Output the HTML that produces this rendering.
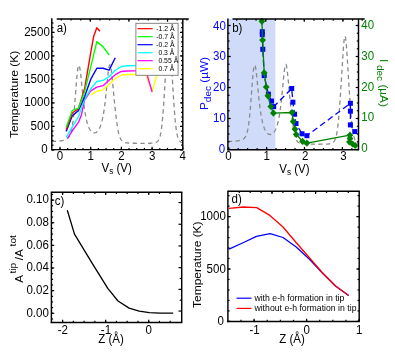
<!DOCTYPE html>
<html><head><meta charset="utf-8"><title>Figure</title>
<style>html,body{margin:0;padding:0;background:#fff;}body{width:395px;height:357px;overflow:hidden;font-family:"Liberation Sans",sans-serif;}svg{display:block;will-change:transform;filter:blur(0.35px);}</style>
</head><body>
<svg width="395" height="357" viewBox="0 0 395 357" style="font-family:'Liberation Sans',sans-serif">
<polyline points="51.80,141.40 52.20,141.39 52.60,141.38 53.00,141.37 53.40,141.35 53.80,141.34 54.20,141.33 54.60,141.31 55.00,141.30 55.40,141.28 55.80,141.26 56.20,141.25 56.60,141.23 57.00,141.20 57.40,141.18 57.80,141.15 58.20,141.13 58.60,141.09 59.00,141.06 59.40,141.02 59.80,140.98 60.20,140.94 60.60,140.89 61.00,140.84 61.40,140.78 61.80,140.71 62.20,140.64 62.60,140.56 63.00,140.47 63.40,140.37 63.80,140.26 64.20,140.14 64.60,140.00 65.00,139.84 65.40,139.66 65.80,139.45 66.20,139.22 66.60,138.96 67.00,138.65 67.40,138.31 67.80,137.98 68.20,137.62 68.60,137.19 69.00,136.67 69.40,136.05 69.80,135.31 70.20,134.42 70.60,133.37 71.00,132.11 71.40,130.63 71.80,128.87 72.20,126.80 72.60,124.37 73.00,121.55 73.40,118.29 73.80,114.58 74.20,110.41 74.60,105.80 75.00,100.76 75.40,95.47 75.80,90.11 76.20,84.84 76.60,79.87 77.00,75.40 77.40,71.61 77.80,68.61 78.20,66.52 78.60,65.38 79.00,65.23 79.40,66.05 79.80,67.79 80.20,70.34 80.60,73.52 81.00,77.16 81.40,81.08 81.80,85.14 82.20,89.19 82.60,93.15 83.00,96.93 83.40,100.50 83.80,103.83 84.20,106.91 84.60,109.73 85.00,112.31 85.40,114.66 85.80,116.79 86.20,118.72 86.60,120.46 87.00,122.03 87.40,123.45 87.80,124.72 88.20,125.87 88.60,126.89 89.00,127.81 89.40,128.63 89.80,129.36 90.20,130.00 90.60,130.57 91.00,131.07 91.40,131.50 91.80,131.86 92.20,132.17 92.60,132.42 93.00,132.62 93.40,132.77 93.80,132.86 94.20,132.91 94.60,132.90 95.00,132.85 95.40,132.74 95.80,132.58 96.20,132.38 96.60,132.11 97.00,131.79 97.40,131.41 97.80,130.97 98.20,130.46 98.60,129.88 99.00,129.21 99.40,128.47 99.80,127.63 100.20,126.69 100.60,125.64 101.00,124.48 101.40,123.18 101.80,121.73 102.20,120.13 102.60,118.35 103.00,116.39 103.40,114.21 103.80,111.82 104.20,109.19 104.60,106.32 105.00,103.19 105.40,99.80 105.80,96.18 106.20,92.35 106.60,88.35 107.00,84.26 107.40,80.19 107.80,76.26 108.20,72.65 108.60,69.52 109.00,67.05 109.40,65.41 109.80,64.70 110.20,64.97 110.60,66.22 111.00,68.35 111.40,71.22 111.80,74.67 112.20,78.51 112.60,82.61 113.00,86.82 113.40,91.07 113.80,95.28 114.20,99.40 114.60,103.42 115.00,107.29 115.40,111.01 115.80,114.56 116.20,117.91 116.60,121.04 117.00,123.93 117.40,126.56 117.80,128.93 118.20,131.03 118.60,132.87 119.00,134.46 119.40,135.83 119.80,137.00 120.20,137.98 120.60,138.81 121.00,139.51 121.40,140.09 121.80,140.58 122.20,140.99 122.60,141.33 123.00,141.62 123.40,141.86 123.80,142.06 124.20,142.23 124.60,142.37 125.00,142.49 125.40,142.60 125.80,142.69 126.20,142.76 126.60,142.83 127.00,142.88 127.40,142.93 127.80,142.98 128.20,143.01 128.60,143.05 129.00,143.07 129.40,143.10 129.80,143.12 130.20,143.14 130.60,143.16 131.00,143.17 131.40,143.19 131.80,143.20 132.20,143.21 132.60,143.22 133.00,143.23 133.40,143.24 133.80,143.25 134.20,143.26 134.60,143.26 135.00,143.27 135.40,143.27 135.80,143.28 136.20,143.28 136.60,143.29 137.00,143.29 137.40,143.29 137.80,143.30 138.20,143.30 138.60,143.30 139.00,143.31 139.40,143.31 139.80,143.31 140.20,143.31 140.60,143.31 141.00,143.32 141.40,143.32 141.80,143.32 142.20,143.32 142.60,143.32 143.00,143.32 143.40,143.32 143.80,143.32 144.20,143.32 144.60,143.32 145.00,143.32 145.40,143.32 145.80,143.32 146.20,143.31 146.60,143.31 147.00,143.31 147.40,143.30 147.80,143.30 148.20,143.29 148.60,143.29 149.00,143.28 149.40,143.27 149.80,143.26 150.20,143.25 150.60,143.23 151.00,143.22 151.40,143.20 151.80,143.17 152.20,143.15 152.60,143.11 153.00,143.07 153.40,143.03 153.80,142.97 154.20,142.91 154.60,142.83 155.00,142.73 155.40,142.61 155.80,142.47 156.20,142.30 156.60,142.09 157.00,141.83 157.40,141.51 157.80,141.11 158.20,140.62 158.60,140.02 159.00,139.26 159.40,138.32 159.80,137.15 160.20,135.71 160.60,133.93 161.00,131.75 161.40,129.13 161.80,125.99 162.20,122.32 162.60,118.08 163.00,113.29 163.40,108.00 163.80,102.25 164.20,96.11 164.60,89.65 165.00,82.92 165.40,75.99 165.80,68.92 166.20,61.81 166.60,54.81 167.00,48.15 167.40,42.13 167.80,37.13 168.20,33.52 168.60,31.63 169.00,31.63 169.40,33.52 169.80,37.13 170.20,42.14 170.60,48.15 171.00,54.81 171.40,61.81 171.80,68.92 172.20,75.99 172.60,82.92 173.00,89.65 173.40,96.11 173.80,102.25 174.20,108.01 174.60,113.30 175.00,118.09 175.40,122.32 175.80,126.00 176.20,129.14 176.60,131.76 177.00,133.94 177.40,135.72 177.80,137.16 178.20,138.33 178.60,139.27 179.00,140.03 179.40,140.64 179.80,141.13 180.20,141.53 180.60,141.85 181.00,142.11 181.40,142.32 181.80,142.49 182.20,142.63 182.60,142.75" fill="none" stroke="#8a8a8a" stroke-width="1.3" stroke-linejoin="round" stroke-dasharray="4.3 3.4"/>
<polyline points="90.70,95.15 96.84,91.24 102.98,89.83 109.12,84.19 115.26,78.51 121.40,75.03 127.54,74.51 133.68,74.51 139.82,74.51 145.96,74.94 152.10,91.76 158.24,70.00" fill="none" stroke="#ffff00" stroke-width="1.4" stroke-linejoin="round" />
<polyline points="67.67,138.15 72.28,130.77 78.42,122.41 81.49,114.65 84.56,100.08 90.70,90.96 96.84,87.06 102.98,85.65 109.12,80.20 115.26,74.70 121.40,71.46 127.54,70.94 133.68,70.85 139.82,70.85 145.96,70.85 152.10,91.76" fill="none" stroke="#ff00ff" stroke-width="1.4" stroke-linejoin="round" />
<polyline points="66.14,137.44 72.28,126.92 78.42,116.86 84.56,99.14 90.70,88.99 96.84,81.52 102.98,80.39 109.12,76.72 115.26,70.23 121.40,66.48 127.54,65.77 133.68,65.63 139.82,65.63 145.96,65.77" fill="none" stroke="#00ffff" stroke-width="1.4" stroke-linejoin="round" />
<polyline points="66.14,131.38 72.28,115.73 78.42,110.66 84.56,96.79 90.70,79.40 96.84,68.26 102.98,68.26 109.12,70.14 115.26,57.78" fill="none" stroke="#0000ff" stroke-width="1.4" stroke-linejoin="round" />
<polyline points="66.14,129.69 72.28,112.96 78.42,108.59 84.56,88.80 90.70,52.80 93.77,35.88 96.84,27.70 99.91,31.32" fill="none" stroke="#ff0000" stroke-width="1.4" stroke-linejoin="round" />
<polyline points="66.14,127.39 72.28,110.37 78.42,108.16 84.56,92.09 90.70,66.95 96.84,41.66 102.98,46.64 109.12,55.01" fill="none" stroke="#00ff00" stroke-width="1.4" stroke-linejoin="round" />
<rect x="135.9" y="23.3" width="42.2" height="52.0" fill="#fff" stroke="#7a7a7a" stroke-width="0.9"/>
<line x1="137.50" y1="28.70" x2="152.70" y2="28.70" stroke="#ff0000" stroke-width="1.2" />
<text transform="translate(156.20,31.40) scale(0.93,1)" font-size="7.4" fill="#000" text-anchor="start" >-1.2 Å</text>
<line x1="137.50" y1="36.70" x2="152.70" y2="36.70" stroke="#00ff00" stroke-width="1.2" />
<text transform="translate(156.20,39.40) scale(0.93,1)" font-size="7.4" fill="#000" text-anchor="start" >-0.7 Å</text>
<line x1="137.50" y1="44.70" x2="152.70" y2="44.70" stroke="#0000ff" stroke-width="1.2" />
<text transform="translate(156.20,47.40) scale(0.93,1)" font-size="7.4" fill="#000" text-anchor="start" >-0.2 Å</text>
<line x1="137.50" y1="52.70" x2="152.70" y2="52.70" stroke="#00ffff" stroke-width="1.2" />
<text transform="translate(158.40,55.40) scale(0.93,1)" font-size="7.4" fill="#000" text-anchor="start" >0.3 Å</text>
<line x1="137.50" y1="60.70" x2="152.70" y2="60.70" stroke="#ff00ff" stroke-width="1.2" />
<text transform="translate(158.40,63.40) scale(0.93,1)" font-size="7.4" fill="#000" text-anchor="start" >0.55 Å</text>
<line x1="137.50" y1="68.70" x2="152.70" y2="68.70" stroke="#ffff00" stroke-width="1.2" />
<text transform="translate(158.40,71.40) scale(0.93,1)" font-size="7.4" fill="#000" text-anchor="start" >0.7 Å</text>
<line x1="51.80" y1="18.30" x2="51.80" y2="150.25" stroke="#000" stroke-width="1.45" />
<line x1="51.15" y1="149.60" x2="183.45" y2="149.60" stroke="#000" stroke-width="1.45" />
<line x1="182.80" y1="18.90" x2="182.80" y2="149.60" stroke="#000" stroke-width="1.45" />
<line x1="56.70" y1="18.90" x2="188.80" y2="18.90" stroke="#000" stroke-width="1.45" />
<line x1="51.80" y1="149.90" x2="53.50" y2="149.90" stroke="#000" stroke-width="1.2" />
<line x1="51.80" y1="145.20" x2="53.50" y2="145.20" stroke="#000" stroke-width="1.2" />
<line x1="51.80" y1="140.50" x2="53.50" y2="140.50" stroke="#000" stroke-width="1.2" />
<line x1="51.80" y1="135.80" x2="53.50" y2="135.80" stroke="#000" stroke-width="1.2" />
<line x1="51.80" y1="131.10" x2="53.50" y2="131.10" stroke="#000" stroke-width="1.2" />
<line x1="51.80" y1="126.40" x2="53.50" y2="126.40" stroke="#000" stroke-width="1.2" />
<line x1="51.80" y1="121.70" x2="53.50" y2="121.70" stroke="#000" stroke-width="1.2" />
<line x1="51.80" y1="117.00" x2="53.50" y2="117.00" stroke="#000" stroke-width="1.2" />
<line x1="51.80" y1="112.30" x2="53.50" y2="112.30" stroke="#000" stroke-width="1.2" />
<line x1="51.80" y1="107.60" x2="53.50" y2="107.60" stroke="#000" stroke-width="1.2" />
<line x1="51.80" y1="102.90" x2="53.50" y2="102.90" stroke="#000" stroke-width="1.2" />
<line x1="51.80" y1="98.20" x2="53.50" y2="98.20" stroke="#000" stroke-width="1.2" />
<line x1="51.80" y1="93.50" x2="53.50" y2="93.50" stroke="#000" stroke-width="1.2" />
<line x1="51.80" y1="88.80" x2="53.50" y2="88.80" stroke="#000" stroke-width="1.2" />
<line x1="51.80" y1="84.10" x2="53.50" y2="84.10" stroke="#000" stroke-width="1.2" />
<line x1="51.80" y1="79.40" x2="53.50" y2="79.40" stroke="#000" stroke-width="1.2" />
<line x1="51.80" y1="74.70" x2="53.50" y2="74.70" stroke="#000" stroke-width="1.2" />
<line x1="51.80" y1="70.00" x2="53.50" y2="70.00" stroke="#000" stroke-width="1.2" />
<line x1="51.80" y1="65.30" x2="53.50" y2="65.30" stroke="#000" stroke-width="1.2" />
<line x1="51.80" y1="60.60" x2="53.50" y2="60.60" stroke="#000" stroke-width="1.2" />
<line x1="51.80" y1="55.90" x2="53.50" y2="55.90" stroke="#000" stroke-width="1.2" />
<line x1="51.80" y1="51.20" x2="53.50" y2="51.20" stroke="#000" stroke-width="1.2" />
<line x1="51.80" y1="46.50" x2="53.50" y2="46.50" stroke="#000" stroke-width="1.2" />
<line x1="51.80" y1="41.80" x2="53.50" y2="41.80" stroke="#000" stroke-width="1.2" />
<line x1="51.80" y1="37.10" x2="53.50" y2="37.10" stroke="#000" stroke-width="1.2" />
<line x1="51.80" y1="32.40" x2="53.50" y2="32.40" stroke="#000" stroke-width="1.2" />
<line x1="51.80" y1="27.70" x2="53.50" y2="27.70" stroke="#000" stroke-width="1.2" />
<line x1="51.80" y1="23.00" x2="53.50" y2="23.00" stroke="#000" stroke-width="1.2" />
<line x1="51.80" y1="149.90" x2="54.60" y2="149.90" stroke="#000" stroke-width="1.2" />
<line x1="51.80" y1="126.40" x2="54.60" y2="126.40" stroke="#000" stroke-width="1.2" />
<line x1="51.80" y1="102.90" x2="54.60" y2="102.90" stroke="#000" stroke-width="1.2" />
<line x1="51.80" y1="79.40" x2="54.60" y2="79.40" stroke="#000" stroke-width="1.2" />
<line x1="51.80" y1="55.90" x2="54.60" y2="55.90" stroke="#000" stroke-width="1.2" />
<line x1="51.80" y1="32.40" x2="54.60" y2="32.40" stroke="#000" stroke-width="1.2" />
<line x1="182.80" y1="149.90" x2="181.10" y2="149.90" stroke="#000" stroke-width="1.2" />
<line x1="182.80" y1="145.20" x2="181.10" y2="145.20" stroke="#000" stroke-width="1.2" />
<line x1="182.80" y1="140.50" x2="181.10" y2="140.50" stroke="#000" stroke-width="1.2" />
<line x1="182.80" y1="135.80" x2="181.10" y2="135.80" stroke="#000" stroke-width="1.2" />
<line x1="182.80" y1="131.10" x2="181.10" y2="131.10" stroke="#000" stroke-width="1.2" />
<line x1="182.80" y1="126.40" x2="181.10" y2="126.40" stroke="#000" stroke-width="1.2" />
<line x1="182.80" y1="121.70" x2="181.10" y2="121.70" stroke="#000" stroke-width="1.2" />
<line x1="182.80" y1="117.00" x2="181.10" y2="117.00" stroke="#000" stroke-width="1.2" />
<line x1="182.80" y1="112.30" x2="181.10" y2="112.30" stroke="#000" stroke-width="1.2" />
<line x1="182.80" y1="107.60" x2="181.10" y2="107.60" stroke="#000" stroke-width="1.2" />
<line x1="182.80" y1="102.90" x2="181.10" y2="102.90" stroke="#000" stroke-width="1.2" />
<line x1="182.80" y1="98.20" x2="181.10" y2="98.20" stroke="#000" stroke-width="1.2" />
<line x1="182.80" y1="93.50" x2="181.10" y2="93.50" stroke="#000" stroke-width="1.2" />
<line x1="182.80" y1="88.80" x2="181.10" y2="88.80" stroke="#000" stroke-width="1.2" />
<line x1="182.80" y1="84.10" x2="181.10" y2="84.10" stroke="#000" stroke-width="1.2" />
<line x1="182.80" y1="79.40" x2="181.10" y2="79.40" stroke="#000" stroke-width="1.2" />
<line x1="182.80" y1="74.70" x2="181.10" y2="74.70" stroke="#000" stroke-width="1.2" />
<line x1="182.80" y1="70.00" x2="181.10" y2="70.00" stroke="#000" stroke-width="1.2" />
<line x1="182.80" y1="65.30" x2="181.10" y2="65.30" stroke="#000" stroke-width="1.2" />
<line x1="182.80" y1="60.60" x2="181.10" y2="60.60" stroke="#000" stroke-width="1.2" />
<line x1="182.80" y1="55.90" x2="181.10" y2="55.90" stroke="#000" stroke-width="1.2" />
<line x1="182.80" y1="51.20" x2="181.10" y2="51.20" stroke="#000" stroke-width="1.2" />
<line x1="182.80" y1="46.50" x2="181.10" y2="46.50" stroke="#000" stroke-width="1.2" />
<line x1="182.80" y1="41.80" x2="181.10" y2="41.80" stroke="#000" stroke-width="1.2" />
<line x1="182.80" y1="37.10" x2="181.10" y2="37.10" stroke="#000" stroke-width="1.2" />
<line x1="182.80" y1="32.40" x2="181.10" y2="32.40" stroke="#000" stroke-width="1.2" />
<line x1="182.80" y1="27.70" x2="181.10" y2="27.70" stroke="#000" stroke-width="1.2" />
<line x1="182.80" y1="23.00" x2="181.10" y2="23.00" stroke="#000" stroke-width="1.2" />
<line x1="182.80" y1="149.90" x2="180.00" y2="149.90" stroke="#000" stroke-width="1.2" />
<line x1="182.80" y1="126.40" x2="180.00" y2="126.40" stroke="#000" stroke-width="1.2" />
<line x1="182.80" y1="102.90" x2="180.00" y2="102.90" stroke="#000" stroke-width="1.2" />
<line x1="182.80" y1="79.40" x2="180.00" y2="79.40" stroke="#000" stroke-width="1.2" />
<line x1="182.80" y1="55.90" x2="180.00" y2="55.90" stroke="#000" stroke-width="1.2" />
<line x1="182.80" y1="32.40" x2="180.00" y2="32.40" stroke="#000" stroke-width="1.2" />
<line x1="60.00" y1="149.60" x2="60.00" y2="147.90" stroke="#000" stroke-width="1.2" />
<line x1="67.67" y1="149.60" x2="67.67" y2="147.90" stroke="#000" stroke-width="1.2" />
<line x1="75.35" y1="149.60" x2="75.35" y2="147.90" stroke="#000" stroke-width="1.2" />
<line x1="83.03" y1="149.60" x2="83.03" y2="147.90" stroke="#000" stroke-width="1.2" />
<line x1="90.70" y1="149.60" x2="90.70" y2="147.90" stroke="#000" stroke-width="1.2" />
<line x1="98.38" y1="149.60" x2="98.38" y2="147.90" stroke="#000" stroke-width="1.2" />
<line x1="106.05" y1="149.60" x2="106.05" y2="147.90" stroke="#000" stroke-width="1.2" />
<line x1="113.72" y1="149.60" x2="113.72" y2="147.90" stroke="#000" stroke-width="1.2" />
<line x1="121.40" y1="149.60" x2="121.40" y2="147.90" stroke="#000" stroke-width="1.2" />
<line x1="129.07" y1="149.60" x2="129.07" y2="147.90" stroke="#000" stroke-width="1.2" />
<line x1="136.75" y1="149.60" x2="136.75" y2="147.90" stroke="#000" stroke-width="1.2" />
<line x1="144.43" y1="149.60" x2="144.43" y2="147.90" stroke="#000" stroke-width="1.2" />
<line x1="152.10" y1="149.60" x2="152.10" y2="147.90" stroke="#000" stroke-width="1.2" />
<line x1="159.77" y1="149.60" x2="159.77" y2="147.90" stroke="#000" stroke-width="1.2" />
<line x1="167.45" y1="149.60" x2="167.45" y2="147.90" stroke="#000" stroke-width="1.2" />
<line x1="175.12" y1="149.60" x2="175.12" y2="147.90" stroke="#000" stroke-width="1.2" />
<line x1="60.00" y1="149.60" x2="60.00" y2="146.80" stroke="#000" stroke-width="1.2" />
<line x1="90.70" y1="149.60" x2="90.70" y2="146.80" stroke="#000" stroke-width="1.2" />
<line x1="121.40" y1="149.60" x2="121.40" y2="146.80" stroke="#000" stroke-width="1.2" />
<line x1="152.10" y1="149.60" x2="152.10" y2="146.80" stroke="#000" stroke-width="1.2" />
<line x1="182.80" y1="149.60" x2="182.80" y2="146.80" stroke="#000" stroke-width="1.2" />
<line x1="61.40" y1="18.90" x2="61.40" y2="20.60" stroke="#000" stroke-width="1.2" />
<line x1="71.05" y1="18.90" x2="71.05" y2="20.60" stroke="#000" stroke-width="1.2" />
<line x1="80.70" y1="18.90" x2="80.70" y2="20.60" stroke="#000" stroke-width="1.2" />
<line x1="90.35" y1="18.90" x2="90.35" y2="20.60" stroke="#000" stroke-width="1.2" />
<line x1="100.00" y1="18.90" x2="100.00" y2="20.60" stroke="#000" stroke-width="1.2" />
<line x1="109.65" y1="18.90" x2="109.65" y2="20.60" stroke="#000" stroke-width="1.2" />
<line x1="119.30" y1="18.90" x2="119.30" y2="20.60" stroke="#000" stroke-width="1.2" />
<line x1="128.95" y1="18.90" x2="128.95" y2="20.60" stroke="#000" stroke-width="1.2" />
<line x1="138.60" y1="18.90" x2="138.60" y2="20.60" stroke="#000" stroke-width="1.2" />
<line x1="148.25" y1="18.90" x2="148.25" y2="20.60" stroke="#000" stroke-width="1.2" />
<line x1="157.90" y1="18.90" x2="157.90" y2="20.60" stroke="#000" stroke-width="1.2" />
<line x1="167.55" y1="18.90" x2="167.55" y2="20.60" stroke="#000" stroke-width="1.2" />
<line x1="177.20" y1="18.90" x2="177.20" y2="20.60" stroke="#000" stroke-width="1.2" />
<line x1="186.85" y1="18.90" x2="186.85" y2="20.60" stroke="#000" stroke-width="1.2" />
<line x1="90.30" y1="18.90" x2="90.30" y2="21.70" stroke="#000" stroke-width="1.2" />
<line x1="128.90" y1="18.90" x2="128.90" y2="21.70" stroke="#000" stroke-width="1.2" />
<line x1="167.50" y1="18.90" x2="167.50" y2="21.70" stroke="#000" stroke-width="1.2" />
<text transform="translate(47.60,153.00) scale(0.96,1)" font-size="12" fill="#000" text-anchor="end" >0</text>
<text transform="translate(49.80,129.66) scale(0.96,1)" font-size="12" fill="#000" text-anchor="end" >500</text>
<text transform="translate(49.80,106.32) scale(0.96,1)" font-size="12" fill="#000" text-anchor="end" >1000</text>
<text transform="translate(49.80,82.98) scale(0.96,1)" font-size="12" fill="#000" text-anchor="end" >1500</text>
<text transform="translate(49.80,59.64) scale(0.96,1)" font-size="12" fill="#000" text-anchor="end" >2000</text>
<text transform="translate(49.80,36.30) scale(0.96,1)" font-size="12" fill="#000" text-anchor="end" >2500</text>
<text transform="translate(60.00,160.10) scale(0.96,1)" font-size="12" fill="#000" text-anchor="middle" >0</text>
<text transform="translate(90.70,160.10) scale(0.96,1)" font-size="12" fill="#000" text-anchor="middle" >1</text>
<text transform="translate(121.40,160.10) scale(0.96,1)" font-size="12" fill="#000" text-anchor="middle" >2</text>
<text transform="translate(152.10,160.10) scale(0.96,1)" font-size="12" fill="#000" text-anchor="middle" >3</text>
<text transform="translate(182.80,160.10) scale(0.96,1)" font-size="12" fill="#000" text-anchor="middle" >4</text>
<text transform="translate(56.70,32.30) scale(0.96,1)" font-size="12" fill="#000" text-anchor="start" >a)</text>
<text transform="translate(116.60,171.60) scale(0.96,1)" font-size="12" fill="#000" text-anchor="middle" >V<tspan font-size="8.5" dy="2">s</tspan><tspan dy="-2"> (V)</tspan></text>
<text transform="translate(17.70,94.30) scale(0.96,1) rotate(-90)" font-size="12.1" fill="#000" text-anchor="middle" >Temperature (K)</text>
<rect x="227.9" y="19.0" width="47.49999999999997" height="130.7" fill="#cfdbf9"/>
<polyline points="227.90,141.51 228.30,141.50 228.70,141.49 229.10,141.48 229.50,141.47 229.90,141.46 230.30,141.44 230.70,141.43 231.10,141.42 231.50,141.40 231.90,141.38 232.30,141.36 232.70,141.34 233.10,141.32 233.50,141.30 233.90,141.27 234.30,141.25 234.70,141.22 235.10,141.18 235.50,141.15 235.90,141.11 236.30,141.06 236.70,141.01 237.10,140.96 237.50,140.90 237.90,140.84 238.30,140.77 238.70,140.69 239.10,140.60 239.50,140.49 239.90,140.38 240.30,140.25 240.70,140.11 241.10,139.95 241.50,139.77 241.90,139.56 242.30,139.42 242.70,139.27 243.10,139.09 243.50,138.86 243.90,138.57 244.30,138.21 244.70,137.78 245.10,137.26 245.50,136.62 245.90,135.85 246.30,134.93 246.70,133.82 247.10,132.50 247.50,130.91 247.90,129.04 248.30,126.81 248.70,124.20 249.10,121.15 249.50,117.64 249.90,113.65 250.30,109.08 250.70,104.07 251.10,98.72 251.50,93.18 251.90,87.65 252.30,82.32 252.70,77.42 253.10,73.14 253.50,69.66 253.90,67.09 254.30,65.50 254.70,64.95 255.10,65.45 255.50,66.94 255.90,69.33 256.30,72.45 256.70,76.11 257.10,80.13 257.50,84.33 257.90,88.56 258.30,92.70 258.70,96.68 259.10,100.44 259.50,103.95 259.90,107.19 260.30,110.17 260.70,112.88 261.10,115.35 261.50,117.58 261.90,119.61 262.30,121.43 262.70,123.07 263.10,124.55 263.50,125.88 263.90,127.07 264.30,128.14 264.70,129.09 265.10,129.95 265.50,130.71 265.90,131.38 266.30,131.97 266.70,132.49 267.10,132.95 267.50,133.33 267.90,133.66 268.30,133.93 268.70,134.15 269.10,134.32 269.50,134.43 269.90,134.50 270.30,134.51 270.70,134.48 271.10,134.40 271.50,134.26 271.90,134.08 272.30,133.85 272.70,133.56 273.10,133.21 273.50,132.80 273.90,132.32 274.30,131.78 274.70,131.16 275.10,130.46 275.50,129.67 275.90,128.78 276.30,127.79 276.70,126.68 277.10,125.44 277.50,124.07 277.90,122.54 278.30,120.84 278.70,118.95 279.10,116.86 279.50,114.55 279.90,112.00 280.30,109.20 280.70,106.13 281.10,102.80 281.50,99.20 281.90,95.35 282.30,91.29 282.70,87.08 283.10,82.82 283.50,78.62 283.90,74.64 284.30,71.07 284.70,68.09 285.10,65.89 285.50,64.63 285.90,64.40 286.30,65.21 286.70,67.00 287.10,69.66 287.50,73.00 287.90,76.83 288.30,81.00 288.70,85.34 289.10,89.74 289.50,94.12 289.90,98.43 290.30,102.62 290.70,106.68 291.10,110.58 291.50,114.29 291.90,117.81 292.30,121.10 292.70,124.13 293.10,126.90 293.50,129.38 293.90,131.59 294.30,133.52 294.70,135.18 295.10,136.61 295.50,137.82 295.90,138.84 296.30,139.70 296.70,140.42 297.10,141.01 297.50,141.51 297.90,141.92 298.30,142.27 298.70,142.56 299.10,142.80 299.50,143.00 299.90,143.17 300.30,143.31 300.70,143.43 301.10,143.54 301.50,143.62 301.90,143.70 302.30,143.76 302.70,143.82 303.10,143.86 303.50,143.90 303.90,143.94 304.30,143.97 304.70,144.00 305.10,144.02 305.50,144.04 305.90,144.06 306.30,144.08 306.70,144.09 307.10,144.11 307.50,144.12 307.90,144.13 308.30,144.14 308.70,144.15 309.10,144.16 309.50,144.16 309.90,144.17 310.30,144.18 310.70,144.18 311.10,144.19 311.50,144.19 311.90,144.20 312.30,144.20 312.70,144.20 313.10,144.21 313.50,144.21 313.90,144.21 314.30,144.21 314.70,144.22 315.10,144.22 315.50,144.22 315.90,144.22 316.30,144.22 316.70,144.22 317.10,144.23 317.50,144.23 317.90,144.23 318.30,144.23 318.70,144.23 319.10,144.23 319.50,144.23 319.90,144.23 320.30,144.22 320.70,144.22 321.10,144.22 321.50,144.22 321.90,144.22 322.30,144.21 322.70,144.21 323.10,144.21 323.50,144.20 323.90,144.19 324.30,144.19 324.70,144.18 325.10,144.17 325.50,144.16 325.90,144.14 326.30,144.13 326.70,144.11 327.10,144.09 327.50,144.07 327.90,144.04 328.30,144.00 328.70,143.96 329.10,143.92 329.50,143.86 329.90,143.79 330.30,143.72 330.70,143.62 331.10,143.51 331.50,143.37 331.90,143.20 332.30,143.00 332.70,142.75 333.10,142.45 333.50,142.08 333.90,141.63 334.30,141.07 334.70,140.39 335.10,139.54 335.50,138.50 335.90,137.23 336.30,135.67 336.70,133.78 337.10,131.51 337.50,128.81 337.90,125.64 338.30,121.98 338.70,117.82 339.10,113.20 339.50,108.14 339.90,102.70 340.30,96.94 340.70,90.91 341.10,84.66 341.50,78.23 341.90,71.70 342.30,65.13 342.70,58.68 343.10,52.52 343.50,46.92 343.90,42.19 344.30,38.64 344.70,36.57 345.10,36.14 345.50,37.41 345.90,40.25 346.30,44.43 346.70,49.64 347.10,55.55 347.50,61.88 347.90,68.41 348.30,74.98 348.70,81.47 349.10,87.82 349.50,93.96 349.90,99.87 350.30,105.47 350.70,110.73 351.10,115.58 351.50,119.97 351.90,123.88 352.30,127.29 352.70,130.23 353.10,132.71 353.50,134.78 353.90,136.50 354.30,137.91 354.70,139.06 355.10,140.00 355.50,140.76 355.90,141.38 356.30,141.88 356.70,142.29 357.10,142.63 357.50,142.90 357.90,143.12 358.30,143.31" fill="none" stroke="#8a8a8a" stroke-width="1.3" stroke-linejoin="round" stroke-dasharray="4.3 3.4"/>
<polyline points="262.30,31.70 262.30,34.60 262.80,49.30 264.20,75.60 268.40,94.20 271.50,101.10 273.70,106.60 291.70,88.50 292.90,102.20 294.60,114.20 296.00,123.50 302.00,133.80 306.90,135.70 350.40,103.30 350.40,111.20 350.40,124.90 354.90,131.60" fill="none" stroke="#0000ff" stroke-width="1.3" stroke-linejoin="round" stroke-dasharray="6 3.5"/>
<rect x="259.80" y="29.20" width="5" height="5" fill="#0000ff"/>
<rect x="259.80" y="32.10" width="5" height="5" fill="#0000ff"/>
<rect x="260.30" y="46.80" width="5" height="5" fill="#0000ff"/>
<rect x="261.70" y="73.10" width="5" height="5" fill="#0000ff"/>
<rect x="265.90" y="91.70" width="5" height="5" fill="#0000ff"/>
<rect x="269.00" y="98.60" width="5" height="5" fill="#0000ff"/>
<rect x="271.20" y="104.10" width="5" height="5" fill="#0000ff"/>
<rect x="289.20" y="86.00" width="5" height="5" fill="#0000ff"/>
<rect x="290.40" y="99.70" width="5" height="5" fill="#0000ff"/>
<rect x="292.10" y="111.70" width="5" height="5" fill="#0000ff"/>
<rect x="293.50" y="121.00" width="5" height="5" fill="#0000ff"/>
<rect x="299.50" y="131.30" width="5" height="5" fill="#0000ff"/>
<rect x="304.40" y="133.20" width="5" height="5" fill="#0000ff"/>
<rect x="347.90" y="100.80" width="5" height="5" fill="#0000ff"/>
<rect x="347.90" y="108.70" width="5" height="5" fill="#0000ff"/>
<rect x="347.90" y="122.40" width="5" height="5" fill="#0000ff"/>
<rect x="352.40" y="129.10" width="5" height="5" fill="#0000ff"/>
<polyline points="261.90,21.30 262.60,40.10 264.20,72.80 266.20,87.00 267.90,95.80 270.80,106.50 273.40,113.10 292.00,112.50 293.20,121.60 295.00,129.20 296.30,134.50 302.50,141.30 306.90,143.10 349.90,135.20 350.00,138.60 349.40,142.00 352.60,144.00 355.20,145.50" fill="none" stroke="#008000" stroke-width="1.3" stroke-linejoin="round" />
<path d="M258.50,21.30 L261.90,17.70 L265.30,21.30 L261.90,24.90 Z" fill="#008000"/>
<path d="M259.20,40.10 L262.60,36.50 L266.00,40.10 L262.60,43.70 Z" fill="#008000"/>
<path d="M260.80,72.80 L264.20,69.20 L267.60,72.80 L264.20,76.40 Z" fill="#008000"/>
<path d="M262.80,87.00 L266.20,83.40 L269.60,87.00 L266.20,90.60 Z" fill="#008000"/>
<path d="M264.50,95.80 L267.90,92.20 L271.30,95.80 L267.90,99.40 Z" fill="#008000"/>
<path d="M267.40,106.50 L270.80,102.90 L274.20,106.50 L270.80,110.10 Z" fill="#008000"/>
<path d="M270.00,113.10 L273.40,109.50 L276.80,113.10 L273.40,116.70 Z" fill="#008000"/>
<path d="M288.60,112.50 L292.00,108.90 L295.40,112.50 L292.00,116.10 Z" fill="#008000"/>
<path d="M289.80,121.60 L293.20,118.00 L296.60,121.60 L293.20,125.20 Z" fill="#008000"/>
<path d="M291.60,129.20 L295.00,125.60 L298.40,129.20 L295.00,132.80 Z" fill="#008000"/>
<path d="M292.90,134.50 L296.30,130.90 L299.70,134.50 L296.30,138.10 Z" fill="#008000"/>
<path d="M299.10,141.30 L302.50,137.70 L305.90,141.30 L302.50,144.90 Z" fill="#008000"/>
<path d="M303.50,143.10 L306.90,139.50 L310.30,143.10 L306.90,146.70 Z" fill="#008000"/>
<path d="M346.50,135.20 L349.90,131.60 L353.30,135.20 L349.90,138.80 Z" fill="#008000"/>
<path d="M346.60,138.60 L350.00,135.00 L353.40,138.60 L350.00,142.20 Z" fill="#008000"/>
<path d="M346.00,142.00 L349.40,138.40 L352.80,142.00 L349.40,145.60 Z" fill="#008000"/>
<path d="M349.20,144.00 L352.60,140.40 L356.00,144.00 L352.60,147.60 Z" fill="#008000"/>
<path d="M351.80,145.50 L355.20,141.90 L358.60,145.50 L355.20,149.10 Z" fill="#008000"/>
<line x1="227.90" y1="18.40" x2="227.90" y2="150.35" stroke="#000" stroke-width="1.45" />
<line x1="227.25" y1="149.70" x2="359.15" y2="149.70" stroke="#000" stroke-width="1.45" />
<line x1="358.50" y1="19.00" x2="358.50" y2="149.70" stroke="#000" stroke-width="1.45" />
<line x1="232.50" y1="19.00" x2="364.70" y2="19.00" stroke="#000" stroke-width="1.45" />
<line x1="227.90" y1="149.50" x2="229.60" y2="149.50" stroke="#000" stroke-width="1.2" />
<line x1="227.90" y1="141.75" x2="229.60" y2="141.75" stroke="#000" stroke-width="1.2" />
<line x1="227.90" y1="134.00" x2="229.60" y2="134.00" stroke="#000" stroke-width="1.2" />
<line x1="227.90" y1="126.25" x2="229.60" y2="126.25" stroke="#000" stroke-width="1.2" />
<line x1="227.90" y1="118.50" x2="229.60" y2="118.50" stroke="#000" stroke-width="1.2" />
<line x1="227.90" y1="110.75" x2="229.60" y2="110.75" stroke="#000" stroke-width="1.2" />
<line x1="227.90" y1="103.00" x2="229.60" y2="103.00" stroke="#000" stroke-width="1.2" />
<line x1="227.90" y1="95.25" x2="229.60" y2="95.25" stroke="#000" stroke-width="1.2" />
<line x1="227.90" y1="87.50" x2="229.60" y2="87.50" stroke="#000" stroke-width="1.2" />
<line x1="227.90" y1="79.75" x2="229.60" y2="79.75" stroke="#000" stroke-width="1.2" />
<line x1="227.90" y1="72.00" x2="229.60" y2="72.00" stroke="#000" stroke-width="1.2" />
<line x1="227.90" y1="64.25" x2="229.60" y2="64.25" stroke="#000" stroke-width="1.2" />
<line x1="227.90" y1="56.50" x2="229.60" y2="56.50" stroke="#000" stroke-width="1.2" />
<line x1="227.90" y1="48.75" x2="229.60" y2="48.75" stroke="#000" stroke-width="1.2" />
<line x1="227.90" y1="41.00" x2="229.60" y2="41.00" stroke="#000" stroke-width="1.2" />
<line x1="227.90" y1="33.25" x2="229.60" y2="33.25" stroke="#000" stroke-width="1.2" />
<line x1="227.90" y1="25.50" x2="229.60" y2="25.50" stroke="#000" stroke-width="1.2" />
<line x1="227.90" y1="149.50" x2="230.70" y2="149.50" stroke="#000" stroke-width="1.2" />
<line x1="227.90" y1="118.50" x2="230.70" y2="118.50" stroke="#000" stroke-width="1.2" />
<line x1="227.90" y1="87.50" x2="230.70" y2="87.50" stroke="#000" stroke-width="1.2" />
<line x1="227.90" y1="56.50" x2="230.70" y2="56.50" stroke="#000" stroke-width="1.2" />
<line x1="227.90" y1="25.50" x2="230.70" y2="25.50" stroke="#000" stroke-width="1.2" />
<line x1="358.50" y1="149.50" x2="356.80" y2="149.50" stroke="#000" stroke-width="1.2" />
<line x1="358.50" y1="141.75" x2="356.80" y2="141.75" stroke="#000" stroke-width="1.2" />
<line x1="358.50" y1="134.00" x2="356.80" y2="134.00" stroke="#000" stroke-width="1.2" />
<line x1="358.50" y1="126.25" x2="356.80" y2="126.25" stroke="#000" stroke-width="1.2" />
<line x1="358.50" y1="118.50" x2="356.80" y2="118.50" stroke="#000" stroke-width="1.2" />
<line x1="358.50" y1="110.75" x2="356.80" y2="110.75" stroke="#000" stroke-width="1.2" />
<line x1="358.50" y1="103.00" x2="356.80" y2="103.00" stroke="#000" stroke-width="1.2" />
<line x1="358.50" y1="95.25" x2="356.80" y2="95.25" stroke="#000" stroke-width="1.2" />
<line x1="358.50" y1="87.50" x2="356.80" y2="87.50" stroke="#000" stroke-width="1.2" />
<line x1="358.50" y1="79.75" x2="356.80" y2="79.75" stroke="#000" stroke-width="1.2" />
<line x1="358.50" y1="72.00" x2="356.80" y2="72.00" stroke="#000" stroke-width="1.2" />
<line x1="358.50" y1="64.25" x2="356.80" y2="64.25" stroke="#000" stroke-width="1.2" />
<line x1="358.50" y1="56.50" x2="356.80" y2="56.50" stroke="#000" stroke-width="1.2" />
<line x1="358.50" y1="48.75" x2="356.80" y2="48.75" stroke="#000" stroke-width="1.2" />
<line x1="358.50" y1="41.00" x2="356.80" y2="41.00" stroke="#000" stroke-width="1.2" />
<line x1="358.50" y1="33.25" x2="356.80" y2="33.25" stroke="#000" stroke-width="1.2" />
<line x1="358.50" y1="25.50" x2="356.80" y2="25.50" stroke="#000" stroke-width="1.2" />
<line x1="358.50" y1="149.50" x2="355.70" y2="149.50" stroke="#000" stroke-width="1.2" />
<line x1="358.50" y1="118.50" x2="355.70" y2="118.50" stroke="#000" stroke-width="1.2" />
<line x1="358.50" y1="87.50" x2="355.70" y2="87.50" stroke="#000" stroke-width="1.2" />
<line x1="358.50" y1="56.50" x2="355.70" y2="56.50" stroke="#000" stroke-width="1.2" />
<line x1="358.50" y1="25.50" x2="355.70" y2="25.50" stroke="#000" stroke-width="1.2" />
<line x1="228.70" y1="149.70" x2="228.70" y2="148.00" stroke="#000" stroke-width="1.2" />
<line x1="238.17" y1="149.70" x2="238.17" y2="148.00" stroke="#000" stroke-width="1.2" />
<line x1="247.65" y1="149.70" x2="247.65" y2="148.00" stroke="#000" stroke-width="1.2" />
<line x1="257.12" y1="149.70" x2="257.12" y2="148.00" stroke="#000" stroke-width="1.2" />
<line x1="266.60" y1="149.70" x2="266.60" y2="148.00" stroke="#000" stroke-width="1.2" />
<line x1="276.07" y1="149.70" x2="276.07" y2="148.00" stroke="#000" stroke-width="1.2" />
<line x1="285.55" y1="149.70" x2="285.55" y2="148.00" stroke="#000" stroke-width="1.2" />
<line x1="295.02" y1="149.70" x2="295.02" y2="148.00" stroke="#000" stroke-width="1.2" />
<line x1="304.50" y1="149.70" x2="304.50" y2="148.00" stroke="#000" stroke-width="1.2" />
<line x1="313.97" y1="149.70" x2="313.97" y2="148.00" stroke="#000" stroke-width="1.2" />
<line x1="323.45" y1="149.70" x2="323.45" y2="148.00" stroke="#000" stroke-width="1.2" />
<line x1="332.92" y1="149.70" x2="332.92" y2="148.00" stroke="#000" stroke-width="1.2" />
<line x1="342.40" y1="149.70" x2="342.40" y2="148.00" stroke="#000" stroke-width="1.2" />
<line x1="351.88" y1="149.70" x2="351.88" y2="148.00" stroke="#000" stroke-width="1.2" />
<line x1="228.70" y1="149.70" x2="228.70" y2="146.90" stroke="#000" stroke-width="1.2" />
<line x1="266.60" y1="149.70" x2="266.60" y2="146.90" stroke="#000" stroke-width="1.2" />
<line x1="304.50" y1="149.70" x2="304.50" y2="146.90" stroke="#000" stroke-width="1.2" />
<line x1="342.40" y1="149.70" x2="342.40" y2="146.90" stroke="#000" stroke-width="1.2" />
<line x1="236.75" y1="19.00" x2="236.75" y2="20.70" stroke="#000" stroke-width="1.2" />
<line x1="246.40" y1="19.00" x2="246.40" y2="20.70" stroke="#000" stroke-width="1.2" />
<line x1="256.05" y1="19.00" x2="256.05" y2="20.70" stroke="#000" stroke-width="1.2" />
<line x1="265.70" y1="19.00" x2="265.70" y2="20.70" stroke="#000" stroke-width="1.2" />
<line x1="275.35" y1="19.00" x2="275.35" y2="20.70" stroke="#000" stroke-width="1.2" />
<line x1="285.00" y1="19.00" x2="285.00" y2="20.70" stroke="#000" stroke-width="1.2" />
<line x1="294.65" y1="19.00" x2="294.65" y2="20.70" stroke="#000" stroke-width="1.2" />
<line x1="304.30" y1="19.00" x2="304.30" y2="20.70" stroke="#000" stroke-width="1.2" />
<line x1="313.95" y1="19.00" x2="313.95" y2="20.70" stroke="#000" stroke-width="1.2" />
<line x1="323.60" y1="19.00" x2="323.60" y2="20.70" stroke="#000" stroke-width="1.2" />
<line x1="333.25" y1="19.00" x2="333.25" y2="20.70" stroke="#000" stroke-width="1.2" />
<line x1="342.90" y1="19.00" x2="342.90" y2="20.70" stroke="#000" stroke-width="1.2" />
<line x1="352.55" y1="19.00" x2="352.55" y2="20.70" stroke="#000" stroke-width="1.2" />
<line x1="362.20" y1="19.00" x2="362.20" y2="20.70" stroke="#000" stroke-width="1.2" />
<line x1="265.70" y1="19.00" x2="265.70" y2="21.80" stroke="#000" stroke-width="1.2" />
<line x1="304.30" y1="19.00" x2="304.30" y2="21.80" stroke="#000" stroke-width="1.2" />
<line x1="342.90" y1="19.00" x2="342.90" y2="21.80" stroke="#000" stroke-width="1.2" />
<text transform="translate(225.10,152.50) scale(0.96,1)" font-size="12" fill="#0000ff" text-anchor="end" >0</text>
<text transform="translate(361.30,152.10) scale(0.96,1)" font-size="12" fill="#008000" text-anchor="start" >0</text>
<text transform="translate(225.80,121.83) scale(0.96,1)" font-size="12" fill="#0000ff" text-anchor="end" >10</text>
<text transform="translate(361.30,121.38) scale(0.96,1)" font-size="12" fill="#008000" text-anchor="start" >10</text>
<text transform="translate(225.80,91.15) scale(0.96,1)" font-size="12" fill="#0000ff" text-anchor="end" >20</text>
<text transform="translate(361.30,90.65) scale(0.96,1)" font-size="12" fill="#008000" text-anchor="start" >20</text>
<text transform="translate(225.80,60.47) scale(0.96,1)" font-size="12" fill="#0000ff" text-anchor="end" >30</text>
<text transform="translate(361.30,59.93) scale(0.96,1)" font-size="12" fill="#008000" text-anchor="start" >30</text>
<text transform="translate(225.80,29.80) scale(0.96,1)" font-size="12" fill="#0000ff" text-anchor="end" >40</text>
<text transform="translate(361.30,29.20) scale(0.96,1)" font-size="12" fill="#008000" text-anchor="start" >40</text>
<text transform="translate(228.50,160.10) scale(0.96,1)" font-size="12" fill="#000" text-anchor="middle" >0</text>
<text transform="translate(266.80,160.10) scale(0.96,1)" font-size="12" fill="#000" text-anchor="middle" >1</text>
<text transform="translate(305.10,160.10) scale(0.96,1)" font-size="12" fill="#000" text-anchor="middle" >2</text>
<text transform="translate(343.40,160.10) scale(0.96,1)" font-size="12" fill="#000" text-anchor="middle" >3</text>
<text transform="translate(232.20,32.00) scale(0.96,1)" font-size="12" fill="#000" text-anchor="start" >b)</text>
<text transform="translate(294.40,172.50) scale(0.96,1)" font-size="12" fill="#000" text-anchor="middle" >V<tspan font-size="8.5" dy="2">s</tspan><tspan dy="-2"> (V)</tspan></text>
<text transform="translate(208.30,83.50) scale(0.96,1) rotate(-90)" font-size="11.8" fill="#0000ff" text-anchor="middle" >P<tspan font-size="10" dy="3">dec</tspan><tspan dy="-3"> (µW)</tspan></text>
<text transform="translate(379.80,82.90) scale(0.96,1) rotate(90)" font-size="11.8" fill="#008000" text-anchor="middle" >I<tspan font-size="10" dy="3"> dec</tspan><tspan dy="-3"> (µA)</tspan></text>
<polyline points="67.30,210.20 74.50,234.10 92.70,264.10 107.80,288.40 118.00,301.00 129.10,308.10 139.20,311.20 149.40,312.70 160.00,313.10 173.20,313.20" fill="none" stroke="#000" stroke-width="1.3" stroke-linejoin="round" />
<line x1="51.40" y1="191.65" x2="51.40" y2="323.15" stroke="#000" stroke-width="1.45" />
<line x1="50.75" y1="322.50" x2="182.35" y2="322.50" stroke="#000" stroke-width="1.45" />
<line x1="181.70" y1="192.30" x2="181.70" y2="322.50" stroke="#000" stroke-width="1.45" />
<line x1="51.40" y1="192.30" x2="182.35" y2="192.30" stroke="#000" stroke-width="1.45" />
<line x1="51.40" y1="318.96" x2="53.10" y2="318.96" stroke="#000" stroke-width="1.2" />
<line x1="51.40" y1="313.30" x2="53.10" y2="313.30" stroke="#000" stroke-width="1.2" />
<line x1="51.40" y1="307.64" x2="53.10" y2="307.64" stroke="#000" stroke-width="1.2" />
<line x1="51.40" y1="301.98" x2="53.10" y2="301.98" stroke="#000" stroke-width="1.2" />
<line x1="51.40" y1="296.32" x2="53.10" y2="296.32" stroke="#000" stroke-width="1.2" />
<line x1="51.40" y1="290.66" x2="53.10" y2="290.66" stroke="#000" stroke-width="1.2" />
<line x1="51.40" y1="285.00" x2="53.10" y2="285.00" stroke="#000" stroke-width="1.2" />
<line x1="51.40" y1="279.34" x2="53.10" y2="279.34" stroke="#000" stroke-width="1.2" />
<line x1="51.40" y1="273.68" x2="53.10" y2="273.68" stroke="#000" stroke-width="1.2" />
<line x1="51.40" y1="268.02" x2="53.10" y2="268.02" stroke="#000" stroke-width="1.2" />
<line x1="51.40" y1="262.36" x2="53.10" y2="262.36" stroke="#000" stroke-width="1.2" />
<line x1="51.40" y1="256.70" x2="53.10" y2="256.70" stroke="#000" stroke-width="1.2" />
<line x1="51.40" y1="251.04" x2="53.10" y2="251.04" stroke="#000" stroke-width="1.2" />
<line x1="51.40" y1="245.38" x2="53.10" y2="245.38" stroke="#000" stroke-width="1.2" />
<line x1="51.40" y1="239.72" x2="53.10" y2="239.72" stroke="#000" stroke-width="1.2" />
<line x1="51.40" y1="234.06" x2="53.10" y2="234.06" stroke="#000" stroke-width="1.2" />
<line x1="51.40" y1="228.40" x2="53.10" y2="228.40" stroke="#000" stroke-width="1.2" />
<line x1="51.40" y1="222.74" x2="53.10" y2="222.74" stroke="#000" stroke-width="1.2" />
<line x1="51.40" y1="217.08" x2="53.10" y2="217.08" stroke="#000" stroke-width="1.2" />
<line x1="51.40" y1="211.42" x2="53.10" y2="211.42" stroke="#000" stroke-width="1.2" />
<line x1="51.40" y1="205.76" x2="53.10" y2="205.76" stroke="#000" stroke-width="1.2" />
<line x1="51.40" y1="200.10" x2="53.10" y2="200.10" stroke="#000" stroke-width="1.2" />
<line x1="51.40" y1="194.44" x2="53.10" y2="194.44" stroke="#000" stroke-width="1.2" />
<line x1="51.40" y1="313.30" x2="54.20" y2="313.30" stroke="#000" stroke-width="1.2" />
<line x1="51.40" y1="290.66" x2="54.20" y2="290.66" stroke="#000" stroke-width="1.2" />
<line x1="51.40" y1="268.02" x2="54.20" y2="268.02" stroke="#000" stroke-width="1.2" />
<line x1="51.40" y1="245.38" x2="54.20" y2="245.38" stroke="#000" stroke-width="1.2" />
<line x1="51.40" y1="222.74" x2="54.20" y2="222.74" stroke="#000" stroke-width="1.2" />
<line x1="51.40" y1="200.10" x2="54.20" y2="200.10" stroke="#000" stroke-width="1.2" />
<line x1="181.70" y1="300.20" x2="179.70" y2="300.20" stroke="#000" stroke-width="1.2" />
<line x1="181.70" y1="278.50" x2="179.70" y2="278.50" stroke="#000" stroke-width="1.2" />
<line x1="181.70" y1="256.80" x2="179.70" y2="256.80" stroke="#000" stroke-width="1.2" />
<line x1="181.70" y1="235.10" x2="179.70" y2="235.10" stroke="#000" stroke-width="1.2" />
<line x1="181.70" y1="213.40" x2="179.70" y2="213.40" stroke="#000" stroke-width="1.2" />
<line x1="181.70" y1="311.05" x2="178.50" y2="311.05" stroke="#000" stroke-width="1.2" />
<line x1="181.70" y1="289.35" x2="178.50" y2="289.35" stroke="#000" stroke-width="1.2" />
<line x1="181.70" y1="267.65" x2="178.50" y2="267.65" stroke="#000" stroke-width="1.2" />
<line x1="181.70" y1="245.95" x2="178.50" y2="245.95" stroke="#000" stroke-width="1.2" />
<line x1="181.70" y1="224.25" x2="178.50" y2="224.25" stroke="#000" stroke-width="1.2" />
<line x1="181.70" y1="202.55" x2="178.50" y2="202.55" stroke="#000" stroke-width="1.2" />
<line x1="62.60" y1="322.50" x2="62.60" y2="320.80" stroke="#000" stroke-width="1.2" />
<line x1="73.36" y1="322.50" x2="73.36" y2="320.80" stroke="#000" stroke-width="1.2" />
<line x1="84.12" y1="322.50" x2="84.12" y2="320.80" stroke="#000" stroke-width="1.2" />
<line x1="94.89" y1="322.50" x2="94.89" y2="320.80" stroke="#000" stroke-width="1.2" />
<line x1="105.65" y1="322.50" x2="105.65" y2="320.80" stroke="#000" stroke-width="1.2" />
<line x1="116.41" y1="322.50" x2="116.41" y2="320.80" stroke="#000" stroke-width="1.2" />
<line x1="127.17" y1="322.50" x2="127.17" y2="320.80" stroke="#000" stroke-width="1.2" />
<line x1="137.94" y1="322.50" x2="137.94" y2="320.80" stroke="#000" stroke-width="1.2" />
<line x1="148.70" y1="322.50" x2="148.70" y2="320.80" stroke="#000" stroke-width="1.2" />
<line x1="159.46" y1="322.50" x2="159.46" y2="320.80" stroke="#000" stroke-width="1.2" />
<line x1="170.22" y1="322.50" x2="170.22" y2="320.80" stroke="#000" stroke-width="1.2" />
<line x1="62.60" y1="322.50" x2="62.60" y2="319.70" stroke="#000" stroke-width="1.2" />
<line x1="105.65" y1="322.50" x2="105.65" y2="319.70" stroke="#000" stroke-width="1.2" />
<line x1="148.70" y1="322.50" x2="148.70" y2="319.70" stroke="#000" stroke-width="1.2" />
<line x1="62.60" y1="192.30" x2="62.60" y2="194.00" stroke="#000" stroke-width="1.2" />
<line x1="73.36" y1="192.30" x2="73.36" y2="194.00" stroke="#000" stroke-width="1.2" />
<line x1="84.12" y1="192.30" x2="84.12" y2="194.00" stroke="#000" stroke-width="1.2" />
<line x1="94.89" y1="192.30" x2="94.89" y2="194.00" stroke="#000" stroke-width="1.2" />
<line x1="105.65" y1="192.30" x2="105.65" y2="194.00" stroke="#000" stroke-width="1.2" />
<line x1="116.41" y1="192.30" x2="116.41" y2="194.00" stroke="#000" stroke-width="1.2" />
<line x1="127.17" y1="192.30" x2="127.17" y2="194.00" stroke="#000" stroke-width="1.2" />
<line x1="137.94" y1="192.30" x2="137.94" y2="194.00" stroke="#000" stroke-width="1.2" />
<line x1="148.70" y1="192.30" x2="148.70" y2="194.00" stroke="#000" stroke-width="1.2" />
<line x1="159.46" y1="192.30" x2="159.46" y2="194.00" stroke="#000" stroke-width="1.2" />
<line x1="170.22" y1="192.30" x2="170.22" y2="194.00" stroke="#000" stroke-width="1.2" />
<line x1="62.60" y1="192.30" x2="62.60" y2="195.10" stroke="#000" stroke-width="1.2" />
<line x1="105.65" y1="192.30" x2="105.65" y2="195.10" stroke="#000" stroke-width="1.2" />
<line x1="148.70" y1="192.30" x2="148.70" y2="195.10" stroke="#000" stroke-width="1.2" />
<text transform="translate(48.80,316.50) scale(0.96,1)" font-size="12" fill="#000" text-anchor="end" >0.00</text>
<text transform="translate(48.80,293.86) scale(0.96,1)" font-size="12" fill="#000" text-anchor="end" >0.02</text>
<text transform="translate(48.80,271.22) scale(0.96,1)" font-size="12" fill="#000" text-anchor="end" >0.04</text>
<text transform="translate(48.80,248.58) scale(0.96,1)" font-size="12" fill="#000" text-anchor="end" >0.06</text>
<text transform="translate(48.80,225.94) scale(0.96,1)" font-size="12" fill="#000" text-anchor="end" >0.08</text>
<text transform="translate(48.80,203.30) scale(0.96,1)" font-size="12" fill="#000" text-anchor="end" >0.10</text>
<text transform="translate(62.90,333.50) scale(0.96,1)" font-size="12" fill="#000" text-anchor="middle" >-2</text>
<text transform="translate(105.95,333.50) scale(0.96,1)" font-size="12" fill="#000" text-anchor="middle" >-1</text>
<text transform="translate(148.70,333.50) scale(0.96,1)" font-size="12" fill="#000" text-anchor="middle" >0</text>
<text transform="translate(54.80,205.00) scale(0.96,1)" font-size="12" fill="#000" text-anchor="start" >c)</text>
<text transform="translate(111.00,343.00) scale(0.96,1)" font-size="12" fill="#000" text-anchor="middle" >Z (Å)</text>
<text transform="translate(22.90,282.80) scale(0.96,1) rotate(-90)" font-size="11.8" fill="#000" text-anchor="start" >A</text>
<text transform="translate(16.30,273.40) scale(0.96,1) rotate(-90)" font-size="10" fill="#000" text-anchor="start" >tip</text>
<text transform="translate(22.90,260.20) scale(0.96,1) rotate(-90)" font-size="11.8" fill="#000" text-anchor="start" >/A</text>
<text transform="translate(16.30,246.40) scale(0.96,1) rotate(-90)" font-size="10" fill="#000" text-anchor="start" >tot</text>
<polyline points="229.00,249.10 243.60,242.50 256.40,236.40 270.10,233.60 283.00,237.50 296.20,247.00 309.20,259.00 322.40,273.00 335.50,286.00 348.60,295.50" fill="none" stroke="#0000ff" stroke-width="1.3" stroke-linejoin="round" />
<polyline points="229.00,208.30 243.60,207.00 256.70,207.60 269.90,215.40 283.00,227.00 296.10,242.50 309.20,257.50 322.40,272.70 335.50,286.00 348.60,295.50" fill="none" stroke="#ff0000" stroke-width="1.3" stroke-linejoin="round" />
<line x1="236.50" y1="298.20" x2="251.50" y2="298.20" stroke="#0000ff" stroke-width="1.2" />
<line x1="236.50" y1="308.40" x2="251.50" y2="308.40" stroke="#ff0000" stroke-width="1.2" />
<text transform="translate(254.40,301.00) scale(0.99,1)" font-size="8.8" fill="#000" text-anchor="start" >with e-h formation in tip</text>
<text transform="translate(254.40,311.20) scale(0.99,1)" font-size="8.8" fill="#000" text-anchor="start" >without e-h formation in tip</text>
<line x1="227.90" y1="190.65" x2="227.90" y2="322.15" stroke="#000" stroke-width="1.45" />
<line x1="227.25" y1="321.50" x2="359.85" y2="321.50" stroke="#000" stroke-width="1.45" />
<line x1="359.20" y1="191.30" x2="359.20" y2="321.50" stroke="#000" stroke-width="1.45" />
<line x1="227.90" y1="191.30" x2="359.85" y2="191.30" stroke="#000" stroke-width="1.45" />
<line x1="227.90" y1="321.40" x2="229.60" y2="321.40" stroke="#000" stroke-width="1.2" />
<line x1="227.90" y1="310.92" x2="229.60" y2="310.92" stroke="#000" stroke-width="1.2" />
<line x1="227.90" y1="300.44" x2="229.60" y2="300.44" stroke="#000" stroke-width="1.2" />
<line x1="227.90" y1="289.96" x2="229.60" y2="289.96" stroke="#000" stroke-width="1.2" />
<line x1="227.90" y1="279.48" x2="229.60" y2="279.48" stroke="#000" stroke-width="1.2" />
<line x1="227.90" y1="269.00" x2="229.60" y2="269.00" stroke="#000" stroke-width="1.2" />
<line x1="227.90" y1="258.52" x2="229.60" y2="258.52" stroke="#000" stroke-width="1.2" />
<line x1="227.90" y1="248.04" x2="229.60" y2="248.04" stroke="#000" stroke-width="1.2" />
<line x1="227.90" y1="237.56" x2="229.60" y2="237.56" stroke="#000" stroke-width="1.2" />
<line x1="227.90" y1="227.08" x2="229.60" y2="227.08" stroke="#000" stroke-width="1.2" />
<line x1="227.90" y1="216.60" x2="229.60" y2="216.60" stroke="#000" stroke-width="1.2" />
<line x1="227.90" y1="206.12" x2="229.60" y2="206.12" stroke="#000" stroke-width="1.2" />
<line x1="227.90" y1="195.64" x2="229.60" y2="195.64" stroke="#000" stroke-width="1.2" />
<line x1="227.90" y1="321.40" x2="230.70" y2="321.40" stroke="#000" stroke-width="1.2" />
<line x1="227.90" y1="269.00" x2="230.70" y2="269.00" stroke="#000" stroke-width="1.2" />
<line x1="227.90" y1="216.60" x2="230.70" y2="216.60" stroke="#000" stroke-width="1.2" />
<line x1="359.20" y1="321.40" x2="357.50" y2="321.40" stroke="#000" stroke-width="1.2" />
<line x1="359.20" y1="310.92" x2="357.50" y2="310.92" stroke="#000" stroke-width="1.2" />
<line x1="359.20" y1="300.44" x2="357.50" y2="300.44" stroke="#000" stroke-width="1.2" />
<line x1="359.20" y1="289.96" x2="357.50" y2="289.96" stroke="#000" stroke-width="1.2" />
<line x1="359.20" y1="279.48" x2="357.50" y2="279.48" stroke="#000" stroke-width="1.2" />
<line x1="359.20" y1="269.00" x2="357.50" y2="269.00" stroke="#000" stroke-width="1.2" />
<line x1="359.20" y1="258.52" x2="357.50" y2="258.52" stroke="#000" stroke-width="1.2" />
<line x1="359.20" y1="248.04" x2="357.50" y2="248.04" stroke="#000" stroke-width="1.2" />
<line x1="359.20" y1="237.56" x2="357.50" y2="237.56" stroke="#000" stroke-width="1.2" />
<line x1="359.20" y1="227.08" x2="357.50" y2="227.08" stroke="#000" stroke-width="1.2" />
<line x1="359.20" y1="216.60" x2="357.50" y2="216.60" stroke="#000" stroke-width="1.2" />
<line x1="359.20" y1="206.12" x2="357.50" y2="206.12" stroke="#000" stroke-width="1.2" />
<line x1="359.20" y1="195.64" x2="357.50" y2="195.64" stroke="#000" stroke-width="1.2" />
<line x1="359.20" y1="321.40" x2="356.40" y2="321.40" stroke="#000" stroke-width="1.2" />
<line x1="359.20" y1="269.00" x2="356.40" y2="269.00" stroke="#000" stroke-width="1.2" />
<line x1="359.20" y1="216.60" x2="356.40" y2="216.60" stroke="#000" stroke-width="1.2" />
<line x1="240.98" y1="321.50" x2="240.98" y2="319.80" stroke="#000" stroke-width="1.2" />
<line x1="254.10" y1="321.50" x2="254.10" y2="319.80" stroke="#000" stroke-width="1.2" />
<line x1="267.23" y1="321.50" x2="267.23" y2="319.80" stroke="#000" stroke-width="1.2" />
<line x1="280.35" y1="321.50" x2="280.35" y2="319.80" stroke="#000" stroke-width="1.2" />
<line x1="293.48" y1="321.50" x2="293.48" y2="319.80" stroke="#000" stroke-width="1.2" />
<line x1="306.60" y1="321.50" x2="306.60" y2="319.80" stroke="#000" stroke-width="1.2" />
<line x1="319.73" y1="321.50" x2="319.73" y2="319.80" stroke="#000" stroke-width="1.2" />
<line x1="332.85" y1="321.50" x2="332.85" y2="319.80" stroke="#000" stroke-width="1.2" />
<line x1="345.98" y1="321.50" x2="345.98" y2="319.80" stroke="#000" stroke-width="1.2" />
<line x1="359.10" y1="321.50" x2="359.10" y2="319.80" stroke="#000" stroke-width="1.2" />
<line x1="254.10" y1="321.50" x2="254.10" y2="318.70" stroke="#000" stroke-width="1.2" />
<line x1="306.60" y1="321.50" x2="306.60" y2="318.70" stroke="#000" stroke-width="1.2" />
<line x1="359.10" y1="321.50" x2="359.10" y2="318.70" stroke="#000" stroke-width="1.2" />
<line x1="239.30" y1="191.30" x2="239.30" y2="193.00" stroke="#000" stroke-width="1.2" />
<line x1="250.20" y1="191.30" x2="250.20" y2="193.00" stroke="#000" stroke-width="1.2" />
<line x1="261.10" y1="191.30" x2="261.10" y2="193.00" stroke="#000" stroke-width="1.2" />
<line x1="272.00" y1="191.30" x2="272.00" y2="193.00" stroke="#000" stroke-width="1.2" />
<line x1="282.90" y1="191.30" x2="282.90" y2="193.00" stroke="#000" stroke-width="1.2" />
<line x1="293.80" y1="191.30" x2="293.80" y2="193.00" stroke="#000" stroke-width="1.2" />
<line x1="304.70" y1="191.30" x2="304.70" y2="193.00" stroke="#000" stroke-width="1.2" />
<line x1="315.60" y1="191.30" x2="315.60" y2="193.00" stroke="#000" stroke-width="1.2" />
<line x1="326.50" y1="191.30" x2="326.50" y2="193.00" stroke="#000" stroke-width="1.2" />
<line x1="337.40" y1="191.30" x2="337.40" y2="193.00" stroke="#000" stroke-width="1.2" />
<line x1="348.30" y1="191.30" x2="348.30" y2="193.00" stroke="#000" stroke-width="1.2" />
<line x1="272.00" y1="191.30" x2="272.00" y2="194.10" stroke="#000" stroke-width="1.2" />
<line x1="315.60" y1="191.30" x2="315.60" y2="194.10" stroke="#000" stroke-width="1.2" />
<text transform="translate(223.90,324.50) scale(0.96,1)" font-size="12" fill="#000" text-anchor="end" >0</text>
<text transform="translate(225.80,272.50) scale(0.96,1)" font-size="12" fill="#000" text-anchor="end" >500</text>
<text transform="translate(225.80,220.10) scale(0.96,1)" font-size="12" fill="#000" text-anchor="end" >1000</text>
<text transform="translate(254.50,333.70) scale(0.96,1)" font-size="12" fill="#000" text-anchor="middle" >-1</text>
<text transform="translate(306.60,333.70) scale(0.96,1)" font-size="12" fill="#000" text-anchor="middle" >0</text>
<text transform="translate(359.10,333.70) scale(0.96,1)" font-size="12" fill="#000" text-anchor="middle" >1</text>
<text transform="translate(231.60,203.20) scale(0.96,1)" font-size="12" fill="#000" text-anchor="start" >d)</text>
<text transform="translate(292.00,343.00) scale(0.96,1)" font-size="12" fill="#000" text-anchor="middle" >Z (Å)</text>
<text transform="translate(200.90,264.70) scale(0.96,1) rotate(-90)" font-size="12" fill="#000" text-anchor="middle" >Temperature (K)</text>
</svg>
</body></html>
